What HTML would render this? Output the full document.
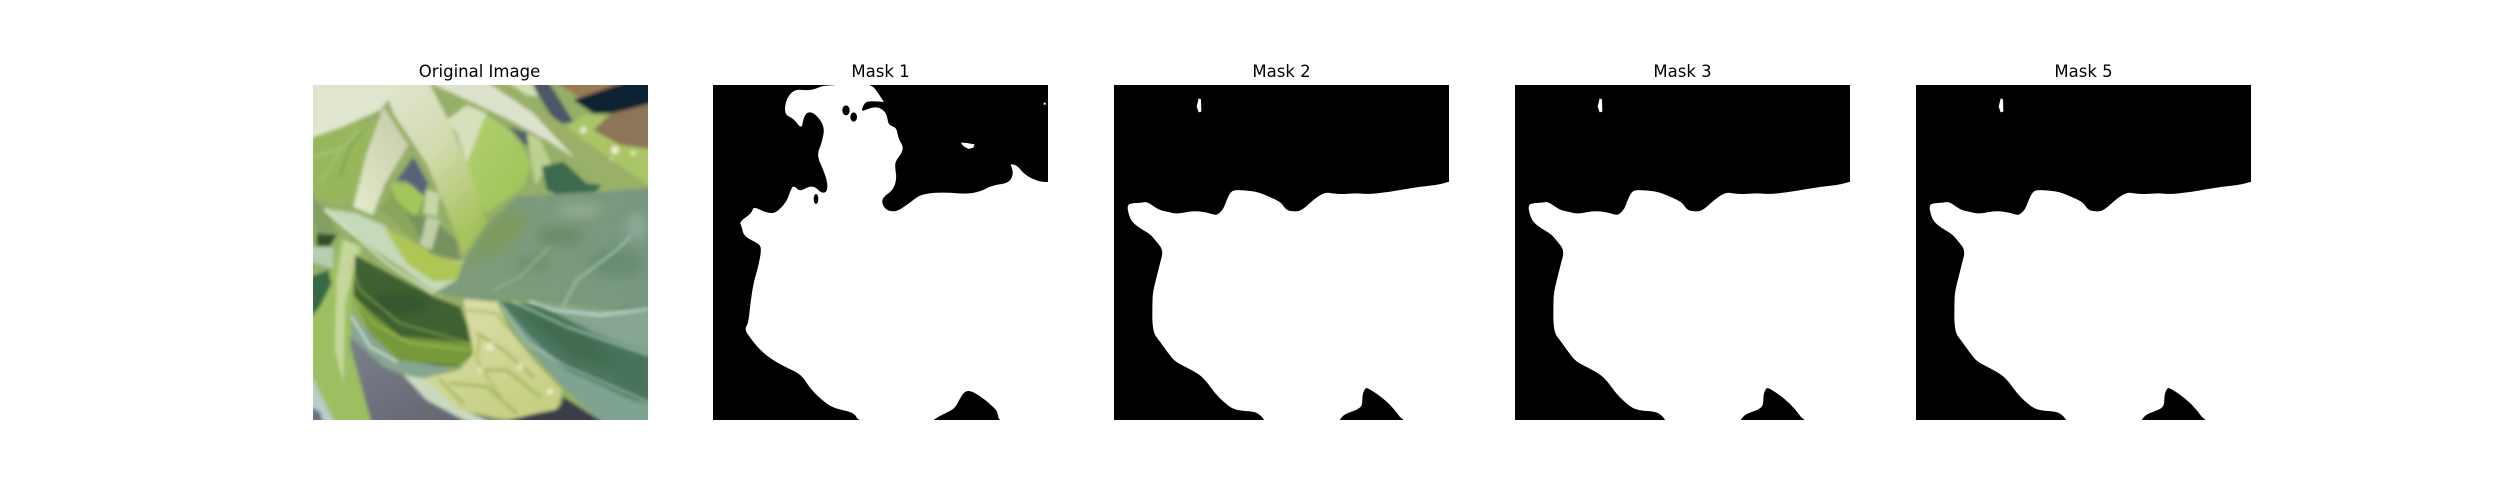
<!DOCTYPE html>
<html lang="en">
<head>
<meta charset="utf-8">
<title>Original image and masks</title>
<style>
html,body{margin:0;padding:0;background:#fff;width:2500px;height:500px;overflow:hidden}
svg{display:block}
text{font-family:"DejaVu Sans",sans-serif;font-size:16.5px;fill:#000;text-anchor:middle}
</style>
</head>
<body>
<svg id="figure" xmlns="http://www.w3.org/2000/svg" width="2500" height="500" viewBox="0 0 2500 500">
<defs>
<clipPath id="photoClip"><rect x="39" y="105" width="1005" height="1005"/></clipPath>
<filter id="soft" x="-5%" y="-5%" width="110%" height="110%"><feGaussianBlur stdDeviation="5.5"/></filter>
<filter id="softer" x="-10%" y="-10%" width="120%" height="120%"><feGaussianBlur stdDeviation="16"/></filter>
<linearGradient id="stemA" x1="0" y1="0" x2="0.55" y2="1"><stop offset="0" stop-color="#e2e6d0"/><stop offset="0.5" stop-color="#d3dbb0"/><stop offset="1" stop-color="#a7c35e"/></linearGradient>
<linearGradient id="stemB" x1="0.8" y1="0" x2="0.2" y2="1"><stop offset="0" stop-color="#c5ccaa"/><stop offset="1" stop-color="#e3e9c8"/></linearGradient>
<linearGradient id="leafTeal" x1="0" y1="0.5" x2="1" y2="0.5"><stop offset="0" stop-color="#809c78"/><stop offset="0.5" stop-color="#7a9b7b"/><stop offset="1" stop-color="#779682"/></linearGradient>
<linearGradient id="leafGreen" x1="0" y1="0" x2="1" y2="1"><stop offset="0" stop-color="#b3d070"/><stop offset="1" stop-color="#9cc255"/></linearGradient>
<linearGradient id="yellowLeaf" x1="0.2" y1="0" x2="0.6" y2="1"><stop offset="0" stop-color="#dcdea8"/><stop offset="1" stop-color="#c6cf84"/></linearGradient>
<linearGradient id="slate" x1="0" y1="0" x2="1" y2="1"><stop offset="0" stop-color="#7c7f8a"/><stop offset="1" stop-color="#5e616d"/></linearGradient>
</defs>
<rect x="0" y="0" width="2500" height="500" fill="#fff"/>
<text x="479.5" y="77">Original Image</text>
<g transform="translate(300 50) scale(0.33333)">
<g clip-path="url(#photoClip)">
<g filter="url(#soft)">
<rect x="30" y="95" width="1025" height="1025" fill="#95ae68"/>
<polygon points="690,95 745,95 820,215 770,225" fill="#4e5668"/>
<polygon points="760,95 985,95 930,175 860,160 810,125" fill="#9a7a52"/>
<polygon points="980,95 1055,95 1055,160 950,190 880,190 820,150" fill="#0f2030"/>
<polygon points="1055,160 1055,300 960,285 880,240 935,190" fill="#8d7558"/>
<polygon points="800,230 850,195 920,200 880,240 960,285 1055,297 1055,410 960,365 900,310" fill="#aac566"/>
<circle cx="850" cy="240" r="10" fill="#e4ecc8"/><circle cx="945" cy="300" r="12" fill="#eef0d0"/><circle cx="930" cy="335" r="12" fill="#e8ecc0"/><circle cx="1000" cy="310" r="9" fill="#dbe6a8"/>
<polygon points="500,340 560,195 640,250 695,340 670,410 560,490 500,400" fill="url(#leafGreen)"/>
<polygon points="625,230 690,250 700,300 670,280" fill="#55606a"/>
<polygon points="340,320 385,400 370,435 320,395 290,390" fill="#586378"/>
<polygon points="30,95 310,95 240,180 130,230 30,265" fill="#e0e5ce"/>
<polygon points="30,265 130,230 230,210 190,340 165,450 100,465 30,430" fill="#98b75c"/>
<polyline points="39,320 120,300 180,240" fill="none" stroke="#b4ca82" stroke-width="4"/>
<polyline points="60,400 110,320 120,290" fill="none" stroke="#b2c886" stroke-width="3"/>
<polyline points="120,380 150,290 190,240" fill="none" stroke="#7d9e4a" stroke-width="6"/>
<polygon points="240,480 300,395 375,440 400,420 370,600 300,530" fill="#8aa65a"/>
<polygon points="270,400 335,405 375,445 345,500 290,450" fill="#a4c45c"/>
<polygon points="320,490 400,510 470,570 480,630 390,610" fill="#78925f"/>
<polygon points="380,500 420,510 395,600 360,585" fill="#c0cfa8"/>
<polygon points="440,210 500,165 560,190 500,340 470,250" fill="#d6e0ba"/>
<polygon points="380,420 420,430 410,500 370,490" fill="#c6d6a4"/>
<polygon points="250,105 385,95 450,220 500,340 562,520 490,615 440,480 380,340 280,190" fill="url(#stemA)"/>
<polygon points="250,170 325,285 255,400 218,495 160,470 200,310" fill="url(#stemB)"/>
<polygon points="380,95 560,95 700,190 825,325 740,270 620,205 470,135" fill="#dde2cc"/>
<polygon points="560,95 620,95 850,270 1044,405 910,420 825,325 700,190" fill="#9ab067"/>
<polygon points="620,95 695,95 715,140 680,135" fill="#d4deb5"/>
<polygon points="680,250 720,265 752,340 705,405 695,340" fill="#bdd092"/>
<polygon points="725,350 790,335 860,400 905,405 880,432 780,438 740,420" fill="#3e6a4f"/>
<polygon points="30,440 70,470 120,560 50,550" fill="#849f62"/>
<polygon points="30,800 90,680 120,560 190,590 155,760 150,900 215,1120 100,1120 30,970" fill="#9dbf62"/>
<polygon points="50,550 110,555 90,590 50,590" fill="#2e4f2a"/>
<polygon points="30,590 100,590 100,655 30,635" fill="#b5ceb0"/>
<polygon points="30,680 85,660 95,700 60,770 30,805" fill="#356a44"/>
<polygon points="130,570 180,590 135,760 130,1000 105,900 110,690" fill="#c6d79c"/>
<polygon points="30,970 65,1040 105,1120 30,1120" fill="#b9cdc9"/>
<polygon points="30,1070 60,1085 70,1120 30,1120" fill="#6c7282"/>
<polygon points="165,615 250,660 400,740 480,770 515,860 515,915 470,950 380,945 280,900 160,740" fill="#3f6233"/>
<polygon points="160,740 300,860 420,870 515,880 510,925 470,945 300,935 210,850" fill="#769a3a"/>
<polygon points="150,790 290,930 400,945 460,960 370,985 260,960 160,880" fill="#86a593"/>
<polygon points="150,860 250,950 310,975 480,1080 620,1120 215,1120 150,880" fill="url(#slate)"/>
<polygon points="790,1040 915,1120 600,1120 780,1070" fill="#383e4a"/>
<polygon points="310,975 370,985 480,1075 580,1120 510,1120 380,1050" fill="#c9dac0"/>
<polygon points="70,475 170,490 260,530 340,620 490,635 480,700 420,740 300,650 210,590 130,530" fill="#c6d9b8"/>
<polygon points="250,530 330,570 410,620 490,640 475,690 400,695 320,640" fill="#aec657"/>
<polygon points="490,750 580,725 620,830 700,930 787,1020 770,1078 620,1108 480,1080 370,985 480,960 520,910 510,860" fill="url(#yellowLeaf)"/>
<polygon points="600,755 800,770 1055,780 1055,1120 910,1120 780,1000 650,850" fill="#4d7860"/>
<polygon points="600,755 690,860 800,960 1000,1050 1055,1060 1055,1120 910,1120 780,1000 650,850" fill="#7fa391"/>
<polygon points="700,755 800,770 1055,785 1055,915 880,850" fill="#86a692"/>
<polygon points="490,640 560,530 650,440 800,430 1055,415 1055,780 800,765 680,750 580,755 480,745 400,730 470,690" fill="url(#leafTeal)"/>
</g>
<g filter="url(#softer)">
<polygon points="560,530 640,480 690,510 610,600 505,640" fill="#7c9a55" opacity="0.85"/>
<ellipse cx="780" cy="560" rx="70" ry="28" fill="#638763" opacity="0.75"/>
<ellipse cx="950" cy="640" rx="80" ry="42" fill="#628a6c" opacity="0.75"/>
<ellipse cx="700" cy="640" rx="60" ry="25" fill="#6c8f6c" opacity="0.7"/>
<ellipse cx="840" cy="480" rx="70" ry="20" fill="#9cb496" opacity="0.7"/>
<ellipse cx="1010" cy="530" rx="30" ry="40" fill="#96b4a0" opacity="0.7"/>
<polygon points="640,775 700,775 900,870 960,960 820,930" fill="#3e6a4c" opacity="0.85"/>
<polygon points="890,880 1044,930 1044,1040 950,1000" fill="#44705a" opacity="0.75"/>
<ellipse cx="300" cy="760" rx="90" ry="35" fill="#2f5430" opacity="0.8"/>
</g>
<g filter="url(#soft)" fill="none" stroke-linecap="round" stroke-width="3.5">
<polyline points="580,720 660,680 750,590" stroke="#a4c4ae"/>
<polyline points="790,765 830,690 950,600 990,560" stroke="#b7d3c0" stroke-width="5"/>
<polyline points="960,560 970,510 1010,490 1044,500" stroke="#86a58a"/>
<polyline points="690,755 760,780 900,795 1044,778" stroke="#cfe6d8" stroke-width="7"/>
<polyline points="640,755 800,830 1044,915" stroke="#b8d4c4" stroke-width="5"/>
<polyline points="605,770 680,880 800,950 1044,1055" stroke="#a9c9b8" stroke-width="5"/>
<polyline points="150,640 180,720 300,820 510,880" stroke="#a6c552"/>
<polyline points="160,740 220,820 330,880 510,900" stroke="#b4cc58"/>
<polyline points="155,800 210,890 290,935" stroke="#e0ecdf" stroke-width="6"/>
<polyline points="75,480 170,560 260,640 400,730" stroke="#e2eedc" stroke-width="6"/>
<polyline points="530,850 610,900 700,980" stroke="#a0b45e" stroke-width="7"/>
<polyline points="500,780 590,790 620,830" stroke="#a4b866" stroke-width="6"/>
<polyline points="450,1000 560,1010 650,1090" stroke="#9db258" stroke-width="7"/>
<polyline points="530,960 620,960 720,1040" stroke="#9db258" stroke-width="7"/>
<polyline points="420,990 490,1060" stroke="#9db258" stroke-width="6"/>
<polyline points="540,860 530,930 600,1040" stroke="#a8bb66" stroke-width="6"/>
<circle cx="570" cy="890" r="13" fill="#ebe8c0" stroke="none"/>
<circle cx="540" cy="960" r="10" fill="#e6e3b4" stroke="none"/>
<circle cx="750" cy="1025" r="9" fill="#f2f2d8" stroke="none"/>
<circle cx="660" cy="950" r="10" fill="#e6e4b6" stroke="none"/>
</g>
</g>
</g>
<g id="panels"></g>
<script>
// Mask outlines and specks in 3x crop units.
const maskTitles = ["Mask 1", "Mask 2", "Mask 3", "Mask 5"];
const maskLefts = [713, 1114, 1515, 1916];
const panelSize = 335;
const panelTop = 85;
const sourceOriginY = 105;
const sourceSpan = 1005;
const mask1Outline = [[290,118],[320,121],[345,118],[365,108],[400,106],[460,100],[490,100],[519,108],[535,130],[549,152],[553,156],[545,155],[501,153],[490,165],[485,181],[490,183],[510,174],[530,171],[546,177],[560,192],[565,222],[575,228],[590,235],[595,265],[610,290],[605,310],[585,335],[586,360],[590,385],[580,420],[550,440],[545,460],[560,482],[590,485],[620,465],[640,450],[660,435],[700,428],[750,428],[800,432],[840,425],[880,405],[925,400],[940,375],[935,350],[930,342],[950,345],[975,375],[1010,392],[1030,396],[1060,396],[1400,1400],[898,1118],[893,1090],[888,1078],[850,1045],[815,1023],[795,1023],[780,1045],[765,1075],[735,1090],[703,1107],[695,1118],[475,1118],[465,1088],[400,1075],[365,1050],[330,1015],[305,975],[265,955],[225,935],[185,905],[155,870],[133,838],[145,820],[150,770],[160,700],[175,650],[185,595],[175,580],[132,560],[125,530],[118,515],[155,490],[160,470],[185,482],[210,490],[230,487],[260,455],[270,425],[280,405],[300,425],[325,410],[345,410],[365,430],[382,425],[382,395],[370,360],[350,315],[365,280],[375,230],[345,190],[322,185],[310,205],[305,238],[280,205],[255,195],[255,160],[270,130]];
const mask1Specks = [[782,278],[800,279],[824,283],[820,293],[805,297],[790,288]];
const mask1Dot = [[1031,158],[1037,158],[1037,164],[1031,164]];
const mask1Holes = [[438,181,11,15],[461,201,10,14],[348,447,7,15]];
const sharedOutline = [[1062,395],[1047,395],[1030,400],[1010,405],[960,410],[900,420],[860,427],[800,433],[770,429],[730,433],[695,430],[680,427],[660,435],[640,450],[620,468],[605,480],[590,485],[560,482],[545,460],[530,450],[500,437],[470,425],[430,421],[400,420],[388,432],[378,455],[370,477],[358,490],[347,496],[320,487],[280,482],[230,492],[205,486],[178,480],[160,468],[140,455],[125,458],[90,460],[82,468],[85,490],[95,515],[120,535],[150,552],[170,575],[190,602],[180,640],[170,680],[160,720],[157,750],[157,845],[180,875],[205,910],[225,935],[265,955],[300,975],[320,995],[345,1030],[370,1055],[395,1075],[420,1082],[465,1085],[485,1098],[497,1118],[715,1118],[722,1105],[735,1092],[775,1078],[787,1065],[787,1035],[795,1015],[803,1013],[850,1045],[885,1080],[912,1118],[1400,1400]];
const sharedSpeck = [[296,145],[303,148],[304,185],[296,187],[290,170]];
const maskOutlines = [mask1Outline, sharedOutline, sharedOutline, sharedOutline];
const maskSpecks = [[mask1Specks, mask1Dot], [sharedSpeck], [sharedSpeck], [sharedSpeck]];
const maskHoles = [mask1Holes, [], [], []];
const sourceOriginsX = [39, 42, 42, 42];

const NS = "http://www.w3.org/2000/svg";
const panels = document.getElementById("panels");
function axisX(i, v) { return maskLefts[i] + (v - sourceOriginsX[i]) * panelSize / sourceSpan; }
function axisY(v) { return panelTop + (v - sourceOriginY) * panelSize / sourceSpan; }
function toPoints(i, pts) { return pts.map(function (p) { return axisX(i, p[0]).toFixed(2) + "," + axisY(p[1]).toFixed(2); }).join(" "); }
function toSmoothPath(i, pts) {
  const n = pts.length;
  let d = "";
  for (let k = 0; k < n; k++) {
    const a = pts[k];
    const b = pts[(k + 1) % n];
    const mx = axisX(i, (a[0] + b[0]) / 2).toFixed(2);
    const my = axisY((a[1] + b[1]) / 2).toFixed(2);
    if (k === 0) {
      d += "M" + mx + " " + my;
    } else {
      d += "Q" + axisX(i, a[0]).toFixed(2) + " " + axisY(a[1]).toFixed(2) + " " + mx + " " + my;
    }
  }
  const f = pts[0];
  const s = pts[1];
  d += "Q" + axisX(i, f[0]).toFixed(2) + " " + axisY(f[1]).toFixed(2) + " " + axisX(i, (f[0] + s[0]) / 2).toFixed(2) + " " + axisY((f[1] + s[1]) / 2).toFixed(2) + "Z";
  return d;
}

maskTitles.forEach(function (title, i) {
  const left = maskLefts[i];
  const g = document.createElementNS(NS, "g");
  
  

  const label = document.createElementNS(NS, "text");
  
  
  label.setAttribute("x", left + panelSize / 2);
  label.setAttribute("y", 77);
  label.textContent = title;
  g.appendChild(label);

  const clip = document.createElementNS(NS, "clipPath");
  clip.setAttribute("id", "maskClip" + i);
  const clipRect = document.createElementNS(NS, "rect");
  clipRect.setAttribute("x", left);
  clipRect.setAttribute("y", panelTop);
  clipRect.setAttribute("width", panelSize);
  clipRect.setAttribute("height", panelSize);
  clip.appendChild(clipRect);
  g.appendChild(clip);

  const body = document.createElementNS(NS, "g");
  
  
  body.setAttribute("clip-path", "url(#maskClip" + i + ")");

  const bg = document.createElementNS(NS, "rect");
  
  
  bg.setAttribute("x", left);
  bg.setAttribute("y", panelTop);
  bg.setAttribute("width", panelSize);
  bg.setAttribute("height", panelSize);
  bg.setAttribute("fill", "#000");
  body.appendChild(bg);

  const region = document.createElementNS(NS, "path");
  
  
  region.setAttribute("d", toSmoothPath(i, maskOutlines[i]));
  region.setAttribute("fill", "#fff");
  body.appendChild(region);

  maskSpecks[i].forEach(function (speck) {
    const s = document.createElementNS(NS, "polygon");
    
    
    s.setAttribute("points", toPoints(i, speck));
    s.setAttribute("fill", "#fff");
    body.appendChild(s);
  });

  maskHoles[i].forEach(function (hole) {
    const h = document.createElementNS(NS, "ellipse");
    
    
    h.setAttribute("cx", axisX(i, hole[0]));
    h.setAttribute("cy", axisY(hole[1]));
    h.setAttribute("rx", hole[2] * panelSize / sourceSpan);
    h.setAttribute("ry", hole[3] * panelSize / sourceSpan);
    h.setAttribute("fill", "#000");
    body.appendChild(h);
  });

  g.appendChild(body);
  panels.appendChild(g);
});
</script>
</svg>
</body>
</html>
